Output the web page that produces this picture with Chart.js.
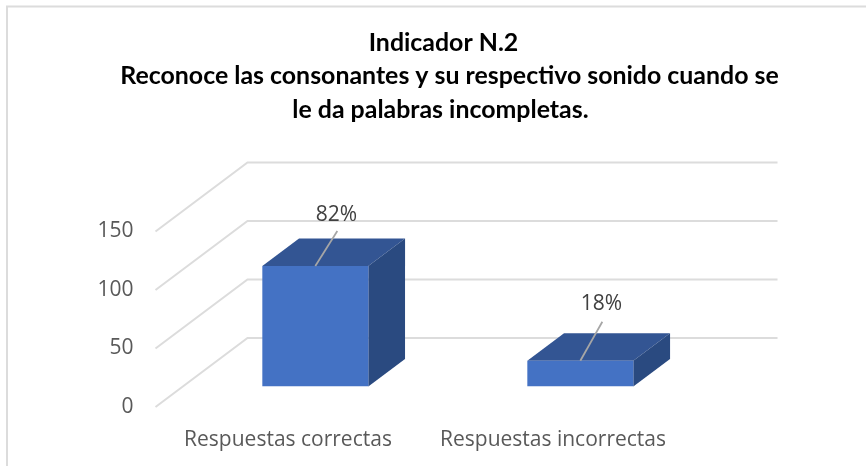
<!DOCTYPE html>
<html><head><meta charset="utf-8">
<style>html,body{margin:0;padding:0;background:#fff}#wrap{width:866px;height:466px}</style>
<script src="https://cdn.jsdelivr.net/npm/chart.js@4/dist/chart.umd.min.js"></script>
</head><body><div id="wrap"><canvas id="c" width="866" height="466"></canvas></div>
<script>
const categories = ["Respuestas correctas", "Respuestas incorrectas"];
const seriesValues = [103, 22];
const percentLabels = ["82%", "18%"];
const titleLines = ["Indicador N.2  ", "Reconoce las consonantes y su respectivo sonido cuando se", "le da palabras incompletas.   "];

const DEPTH_X = 92, DEPTH_Y = 69;      // full floor depth
const BAR_NEAR = 0.297, BAR_FAR = 0.696; // where the bar sits along the depth
const LEADER = [[22, 35, 16], [22, 39, 18]]; // dx, dy, label gap

const frame = {
  id: 'frame',
  afterLayout(ch) { ch.titleBlock.left = 0; ch.titleBlock.right = 899; },
  beforeDraw(ch) {
    const g = ch.ctx; g.save();
    g.strokeStyle = '#dcdcdc'; g.lineWidth = 2;
    g.beginPath(); g.moveTo(7, 466); g.lineTo(7, 6.5); g.lineTo(866, 6.5); g.stroke();
    g.restore();
  }
};
const wall = {
  id: 'wall',
  beforeDatasetsDraw(ch) {
    const g = ch.ctx, y = ch.scales.y, a = ch.chartArea;
    g.save(); g.strokeStyle = '#dcdcdc'; g.lineWidth = 2;
    y.ticks.forEach(t => {
      const p = y.getPixelForValue(t.value);
      g.beginPath(); g.moveTo(a.left, p); g.lineTo(a.left + DEPTH_X, p - DEPTH_Y); g.lineTo(a.right + DEPTH_X, p - DEPTH_Y); g.stroke();
    });
    g.restore();
  }
};
const box = {
  id: 'box',
  beforeDatasetDraw(ch, args) {
    const g = ch.ctx, nx = DEPTH_X * BAR_NEAR, ny = DEPTH_Y * BAR_NEAR, fx = DEPTH_X * (BAR_FAR - BAR_NEAR), fy = DEPTH_Y * (BAR_FAR - BAR_NEAR);
    g.save(); g.translate(nx, -ny);
    args.meta.data.forEach(b => {
      const l = b.x - b.width / 2, r = b.x + b.width / 2, t = b.y, bt = b.base;
      g.fillStyle = '#335593';
      g.beginPath(); g.moveTo(l, t); g.lineTo(l + fx, t - fy); g.lineTo(r + fx, t - fy); g.lineTo(r, t); g.closePath(); g.fill();
      g.fillStyle = '#2a4a80';
      g.beginPath(); g.moveTo(r, t); g.lineTo(r + fx, t - fy); g.lineTo(r + fx, bt - fy); g.lineTo(r, bt); g.closePath(); g.fill();
    });
  },
  afterDatasetDraw(ch, args) {
    const g = ch.ctx;
    g.strokeStyle = '#a6a6a6'; g.lineWidth = 1.75;
    g.fillStyle = '#404040'; g.font = '21px "Open Sans"'; g.textAlign = 'center'; g.textBaseline = 'middle';
    args.meta.data.forEach((b, i) => {
      const [dx, dy, gap] = LEADER[i];
      g.beginPath(); g.moveTo(b.x, b.y); g.lineTo(b.x + dx, b.y - dy); g.stroke();
      g.fillText(percentLabels[i], b.x + dx - 1, b.y - dy - gap);
    });
    g.restore();
  }
};
new Chart(document.getElementById('c'), {
  type: 'bar',
  data: { labels: categories, datasets: [{ data: seriesValues, backgroundColor: '#4472c4', borderWidth: 0, categoryPercentage: 0.4, barPercentage: 1 }] },
  plugins: [frame, wall, box],
  options: {
    responsive: false, animation: false,
    layout: { padding: { left: 0, right: 180.5, top: 26, bottom: 9 } },
    plugins: {
      legend: { display: false }, tooltip: { enabled: false },
      title: { display: true, text: titleLines, color: '#000', font: { family: 'Lato', size: 24.9, weight: 'bold', lineHeight: 1.345 }, padding: { top: 0, bottom: 105 } }
    },
    scales: {
      x: { afterFit(s) { s.height = 50; }, grid: { display: false, drawTicks: false }, border: { display: false }, ticks: { color: '#595959', font: { family: '"Open Sans"', size: 21 }, padding: 20, maxRotation: 0, autoSkip: false } },
      y: { min: 0, max: 150, afterFit(s) { s.width = 155.5; },
        grid: { display: false, drawTicks: false }, border: { display: false },
        ticks: { stepSize: 50, color: '#595959', font: { family: '"Open Sans"', size: 21 }, padding: 22 } }
    }
  }
});
</script></body></html>
